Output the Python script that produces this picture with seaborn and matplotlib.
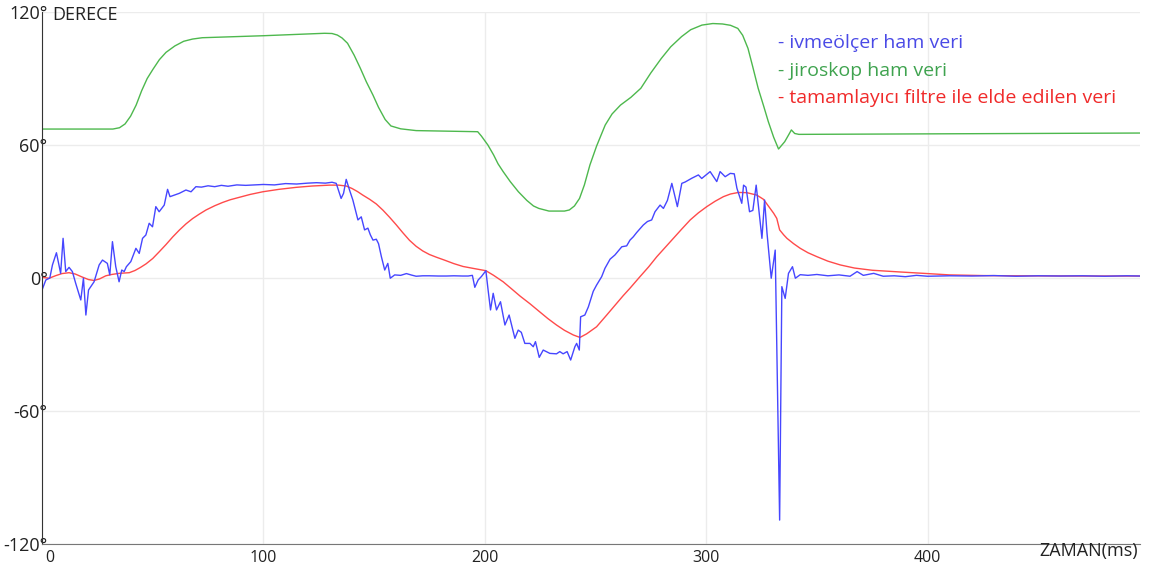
import numpy as np
import pandas as pd
import seaborn as sns
import matplotlib.pyplot as plt
import matplotlib.transforms as mtrans

# zaman (ms) / aci (derece) degerleri
ivme_t = [0, 1.7, 3.5, 4.7, 6.5, 8.4, 9.5, 10.7, 12.2, 13.7, 15.2, 17.5, 18.7, 19.8, 21, 23.5,
          25.8, 27.3, 29.5, 30.6, 31.8, 33.3, 34.8, 36, 37.1, 38.1, 40.1, 42.4, 43.9, 45.4, 46.9,
          48.4, 49.9, 51.4, 52.9, 55.2, 56.7, 57.8, 60, 62, 65, 67.3, 69.5, 72, 75, 78, 81, 84,
          88, 92, 96, 100, 105, 110, 115, 120, 124, 128, 131, 132.9, 135.1, 136.2, 137.4, 138.9,
          140.4, 142.7, 144.2, 145.7, 147.2, 148.3, 149.5, 151, 152, 153.3, 154.8, 156.2, 157.3,
          159.3, 162, 164.6, 167, 169, 172, 175, 179, 182.7, 186, 190, 192.5, 194.4, 195.5, 197,
          198.5, 200.5, 201.5, 202.6, 203.8, 205.3, 207.1, 209.1, 211, 213.6, 215.1, 216.5,
          218.1, 220.4, 221.9, 222.9, 224.6, 226.4, 229.4, 232.4, 233.9, 235.4, 237.2, 238.8,
          240.7, 241.5, 242.7, 243.3, 245.2, 246.8, 249, 250.5, 252.8, 254.3, 256.6, 258.8,
          261.9, 264.1, 265.6, 267.1, 268.6, 271.6, 273.5, 275.4, 276.9, 279.2, 280.7, 282.5,
          284.5, 287, 289, 290.5, 293.5, 296.5, 298, 300, 301.8, 304.8, 306.3, 308.6, 310.9,
          312.7, 313.9, 316.1, 316.9, 318, 319.6, 321.1, 322.6, 325.2, 326.4, 327.5, 329.4,
          331.2, 333.2, 334.2, 335.7, 337.2, 339, 340.3, 342.5, 346, 350, 355, 360, 365, 368.2,
          371, 375.7, 380, 385, 390, 395, 400, 410, 420, 430, 440, 450, 460, 470, 480, 490, 496]
ivme_deg = [-5.4, -0.9, 0, 5.9, 11.4, 2.1, 17.9, 2.9, 4.8, 2.9, -2.4, -9.9, -0.1, -16.7, -5.4,
            -1.7, 5.9, 8.1, 6.6, 1.4, 16.4, 5.1, -1.7, 3.6, 2.9, 5.1, 7.4, 13.4, 11.1, 17.9, 19.4,
            24.7, 23.1, 32.2, 29.9, 32.9, 40, 36.7, 37.5, 38.2, 39.7, 38.9, 41.2, 41.0, 41.6,
            41.2, 41.8, 41.4, 42.0, 41.8, 42.0, 42.2, 42.0, 42.6, 42.4, 42.8, 43.0, 42.8, 43.2,
            42.7, 35.9, 38.2, 44.5, 39.7, 35.2, 26.2, 27.6, 21.7, 22.5, 19.5, 17.1, 17.5, 15.5,
            9.6, 3.6, 6.6, -0.1, 1.4, 1.2, 2.0, 1.3, 0.8, 1.0, 1.0, 0.9, 0.9, 1.0, 0.9, 0.9, 1.2,
            -4.2, -0.9, 0.7, 3.3, -5.4, -14.4, -6.9, -14.4, -10.7, -21.2, -16.7, -27.2, -23.5,
            -24.5, -29.5, -29.5, -31, -28.7, -35.8, -32.5, -34, -34.2, -33.2, -34.2, -33.2, -37,
            -31, -29.5, -32.5, -17.5, -16.7, -13, -6, -3.2, 0.6, 4.4, 8.5, 10.4, 14.1, 14.5,
            17.1, 18.6, 20.5, 23.9, 25.5, 26.2, 29.9, 32.9, 31.4, 35, 42.7, 32.2, 42.7, 43.3, 45,
            46.5, 44.9, 46.5, 48, 43.5, 48, 45.7, 47.2, 47, 40.5, 33.7, 41.9, 41, 29.9, 30.5,
            41.9, 17.9, 35.2, 20.2, -0.1, 12.6, -109.2, -3.9, -9.2, 2.1, 5.1, -0.1, 1.5, 1.2,
            1.6, 1.0, 1.4, 0.8, 2.9, 1.2, 2.1, 0.8, 1.0, 0.6, 1.2, 0.8, 1.0, 0.9, 1.1, 0.8, 1.0,
            0.9, 1.0, 0.8, 1.0, 0.9]

jiro_t = [0, 32, 35, 37.5, 40, 42.5, 45, 47.5, 50, 53, 56, 60, 64, 68, 72.4, 100, 127.6, 131,
          133.4, 135.5, 138, 141, 143.8, 146.5, 149.5, 152, 155, 157.6, 162, 169, 196.8, 198.5,
          201.4, 204, 206, 208.3, 211.5, 215.2, 219, 222, 224.4, 229, 236, 238.2, 240.5, 242.8,
          245, 247.5, 250.5, 254.4, 257.5, 261.3, 266, 270.5, 275, 279.7, 284, 288.9, 293,
          298.1, 303, 307.4, 311, 314.3, 316.5, 318.9, 321, 323.5, 326, 328.1, 330.5, 332.7,
          335.5, 337.5, 338.5, 340, 341.9, 496]
jiro_deg = [67.2, 67.2, 67.8, 69.5, 73, 78, 84.5, 90, 94, 98.5, 101.8, 104.7, 106.8, 107.8,
            108.4, 109.3, 110.4, 110.3, 109.6, 108.3, 105.9, 100.5, 94.6, 88.5, 82.5, 77, 71.5,
            68.6, 67.3, 66.5, 66, 64, 60, 55.5, 51.5, 48, 43.5, 38.9, 35, 32.5, 31.4, 30.2, 30.2,
            30.7, 32.5, 35.9, 42, 51, 59.5, 69, 74, 78, 81.5, 85.6, 92.5, 99, 104.3, 108.9, 112,
            114.1, 114.8, 114.6, 114, 112.6, 109.5, 103.6, 95.5, 85.6, 77.5, 70.5, 63.5, 58.2,
            61.5, 65, 66.8, 65.2, 64.8, 65.4]

filtre_t = [0, 3.2, 6, 9, 12.2, 15, 18, 21, 23.5, 26, 28.8, 31.5, 34.8, 39.4, 42, 44.5, 47, 50,
            53, 56, 59, 62, 65, 68, 71, 74.1, 78, 81.6, 85, 89.1, 94, 99.7, 107, 114.8, 122,
            129.9, 134, 137.4, 140, 142.5, 144.9, 148, 151, 154, 157, 160, 163, 166, 169, 172,
            175, 178.1, 182, 186, 190.2, 195, 200.5, 204, 208.3, 212, 216, 220.4, 224.5, 228.5,
            232.4, 236, 240, 243, 246, 250.5, 255, 259.6, 262.5, 265.6, 270.1, 274, 277.7, 281.5,
            285.2, 289, 292.8, 296.5, 300.3, 304, 307.8, 311, 314.6, 318.4, 322.9, 325.9, 328.9,
            330.5, 331.9, 333.2, 335, 336.5, 339.5, 342.5, 346, 350.1, 355, 360.6, 367, 375, 388,
            400, 410, 425, 440, 470, 496]
filtre_deg = [0.3, -0.1, 1.0, 2.0, 2.4, 1.8, 0.5, -0.7, -1.1, -0.4, 1.0, 1.6, 2.1, 2.4, 3.4,
              4.8, 6.4, 8.8, 11.9, 15.1, 18.5, 21.6, 24.4, 26.8, 28.8, 30.7, 32.6, 34.1, 35.3,
              36.4, 37.7, 38.9, 40.0, 40.9, 41.5, 41.9, 41.9, 41.5, 40.4, 39, 37.4, 35.5, 33.4,
              30.6, 27.4, 24, 20.4, 17, 14.3, 12.2, 10.6, 9.4, 8, 6.5, 5.2, 4.3, 3.3, 1.2, -1.7,
              -4.8, -8.2, -11.6, -15, -18.3, -21.2, -23.6, -25.7, -26.8, -25.2, -22, -16.8, -11.4,
              -8, -4.6, 0.6, 5, 9.6, 13.8, 17.9, 22.1, 26.2, 29.4, 32.2, 34.6, 36.7, 37.9, 38.6,
              38.5, 37.4, 35.5, 31.4, 29.2, 26.9, 21.7, 19.5, 17.9, 15.5, 13.4, 11.4, 9.6, 7.6,
              5.9, 4.5, 3.5, 2.7, 2.0, 1.4, 1.1, 1.0, 0.9, 0.9]

x_ticks = [0, 100, 200, 300, 400]
y_ticks = [-120, -60, 0, 60, 120]
y_tick_labels = ['-120°', '-60°', '0°', '60°', '120°']
legend_labels = ['- ivmeölçer ham veri', '- jiroskop ham veri',
                 '- tamamlayıcı filtre ile elde edilen veri']
legend_colors = ['#4a4ae6', '#3fa34f', '#f02a2a']

sns.set_style('white')
plt.rcParams['font.family'] = ['Open Sans', 'DejaVu Sans']

fig = plt.figure(figsize=(11.52, 5.69), dpi=100)
ax = fig.add_axes([0.0365, 0.0439, 0.9531, 0.935])

ivme = pd.DataFrame({'t': ivme_t, 'deg': ivme_deg})
jiro = pd.DataFrame({'t': jiro_t, 'deg': jiro_deg})
filtre = pd.DataFrame({'t': filtre_t, 'deg': filtre_deg})

sns.lineplot(data=jiro, x='t', y='deg', color='#4db84d', lw=1.0, estimator=None, ax=ax)
sns.lineplot(data=filtre, x='t', y='deg', color='#ff4a4a', lw=1.0, estimator=None, ax=ax)
sns.lineplot(data=ivme, x='t', y='deg', color='#4646ff', lw=1.0, estimator=None, ax=ax)

ax.set_xlim(0, 496)
ax.set_ylim(-120, 120)
ax.set_xticks(x_ticks)
ax.set_yticks(y_ticks)
ax.set_yticklabels(y_tick_labels)
ax.set_xlabel('')
ax.set_ylabel('')
ax.grid(True, color='#ececec', lw=1)
ax.set_axisbelow(True)

for s in ['top', 'right']:
    ax.spines[s].set_visible(False)
ax.spines['left'].set_color('#333333')
ax.spines['bottom'].set_color('#777777')
ax.tick_params(axis='y', length=0, pad=-4, labelsize=13, labelcolor='#222222')
ax.tick_params(axis='x', length=3, pad=1, labelsize=11.5, labelcolor='#222222', color='#777777')

# "0" etiketi eksenin biraz sagina kayik
lab0 = ax.get_xticklabels()[0]
lab0.set_transform(lab0.get_transform() + mtrans.ScaledTranslation(0.08, 0, fig.dpi_scale_trans))

ax.text(0.009, 0.994, 'DERECE', transform=ax.transAxes, fontsize=13, va='center',
        color='#222222')
ax.text(0.998, -0.013, 'ZAMAN(ms)', transform=ax.transAxes, fontsize=13, ha='right',
        va='center', color='#222222', clip_on=False)

for i, (lab, col) in enumerate(zip(legend_labels, legend_colors)):
    ax.text(0.670, 0.942 - i * 0.052, lab, transform=ax.transAxes, fontsize=14,
            color=col, va='center')

fig.savefig('out.png', dpi=100)
